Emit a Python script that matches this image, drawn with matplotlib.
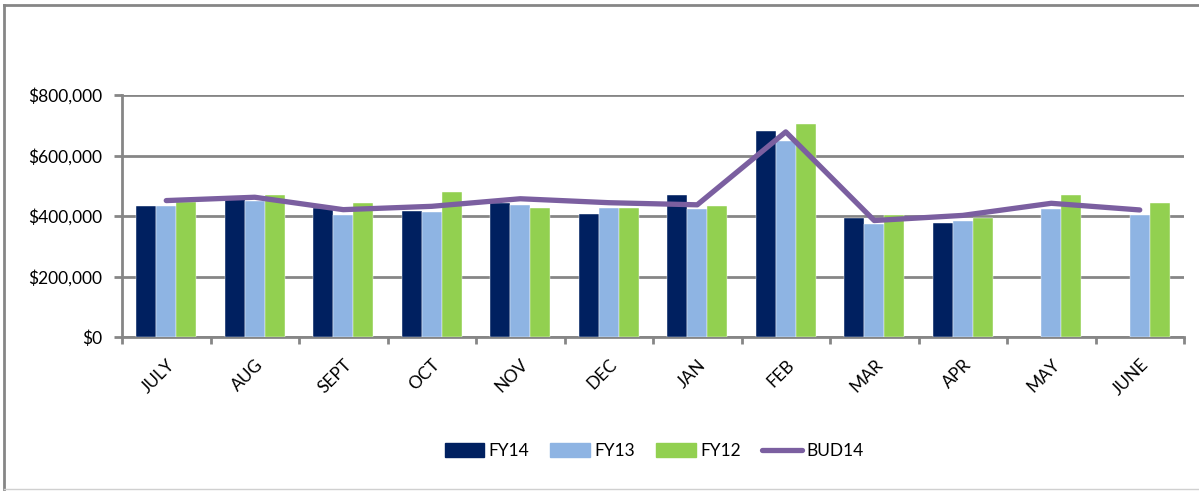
import numpy as np
import matplotlib
matplotlib.use('Agg')
import matplotlib.pyplot as plt
from matplotlib.ticker import FuncFormatter, FixedLocator
from matplotlib.lines import Line2D

# monthly values
months = ['JULY', 'AUG', 'SEPT', 'OCT', 'NOV', 'DEC', 'JAN', 'FEB', 'MAR', 'APR', 'MAY', 'JUNE']
fy14 = [432000, 461000, 425000, 418000, 442000, 407000, 468000, 681000, 393000, 377000, np.nan, np.nan]
fy13 = [432000, 451000, 404000, 413000, 438000, 427000, 423000, 648000, 372000, 383000, 422000, 404000]
fy12 = [446000, 468000, 444000, 478000, 427000, 427000, 432000, 704000, 402000, 393000, 468000, 443000]
bud14 = [451000, 462000, 421000, 432000, 457000, 444000, 437000, 678000, 385000, 402000, 442000, 420000]

plt.rcParams['font.family'] = ['Lato', 'DejaVu Sans']

fig = plt.figure(figsize=(11.99, 4.91), dpi=100)
ax = fig.add_axes([122 / 1199, 1 - 337 / 491, (1184 - 122) / 1199, (337 - 95) / 491])

x = np.arange(len(months))
w = 0.226
ax.bar(x - w, fy14, w, color='#002060', edgecolor='white', linewidth=0.3, label='FY14', zorder=3)
ax.bar(x, fy13, w, color='#8EB4E3', edgecolor='white', linewidth=0.3, label='FY13', zorder=3)
ax.bar(x + w, fy12, w, color='#92D050', edgecolor='white', linewidth=0.3, label='FY12', zorder=3)
ax.plot(x, bud14, color='#7B5FA0', linewidth=3.8, solid_capstyle='round', solid_joinstyle='round',
        label='BUD14', zorder=4)

ax.set_xlim(-0.5, len(months) - 0.5)
ax.set_ylim(0, 800000)
ax.set_yticks(np.arange(0, 800001, 200000))
ax.yaxis.set_major_formatter(FuncFormatter(lambda v, p: '${:,.0f}'.format(v)))
ax.yaxis.grid(True, color='#868686', linewidth=2, zorder=0)
ax.set_axisbelow(True)

ax.xaxis.set_major_locator(FixedLocator(np.arange(-0.5, len(months), 1)))
ax.set_xticks(x, minor=True)
ax.set_xticklabels([], minor=False)
ax.set_xticklabels(months, minor=True, rotation=45, ha='right', va='top',
                   rotation_mode='anchor', fontsize=12.5)
ax.tick_params(axis='x', which='minor', length=0, pad=14)
ax.tick_params(axis='x', which='major', length=5, width=2, color='#868686')
ax.tick_params(axis='y', length=6, width=2, color='#868686', labelsize=12.5, pad=8)

for s in ['top', 'right']:
    ax.spines[s].set_visible(False)
for s in ['left', 'bottom']:
    ax.spines[s].set_color('#868686')
    ax.spines[s].set_linewidth(2)

handles = [plt.Rectangle((0, 0), 1, 1, color='#002060'),
           plt.Rectangle((0, 0), 1, 1, color='#8EB4E3'),
           plt.Rectangle((0, 0), 1, 1, color='#92D050'),
           Line2D([], [], color='#7B5FA0', linewidth=3.8, solid_capstyle='round')]
fig.legend(handles, ['FY14', 'FY13', 'FY12', 'BUD14'], loc='center', bbox_to_anchor=(654 / 1199, 1 - 451 / 491),
           ncol=4, frameon=False, fontsize=12.5, handlelength=2.3, handleheight=0.8,
           handletextpad=0.25, columnspacing=1.2)

# outer chart border
fig.add_artist(Line2D([4 / 1199, 4 / 1199], [1 - 489 / 491, 1 - 5 / 491], color='#868686', linewidth=2))
fig.add_artist(Line2D([4 / 1199, 1.0], [1 - 5 / 491, 1 - 5 / 491], color='#868686', linewidth=2))
fig.add_artist(Line2D([4 / 1199, 1.0], [1 - 489 / 491, 1 - 489 / 491], color='#d0d0d0', linewidth=1))

fig.savefig('out.png', dpi=100)
